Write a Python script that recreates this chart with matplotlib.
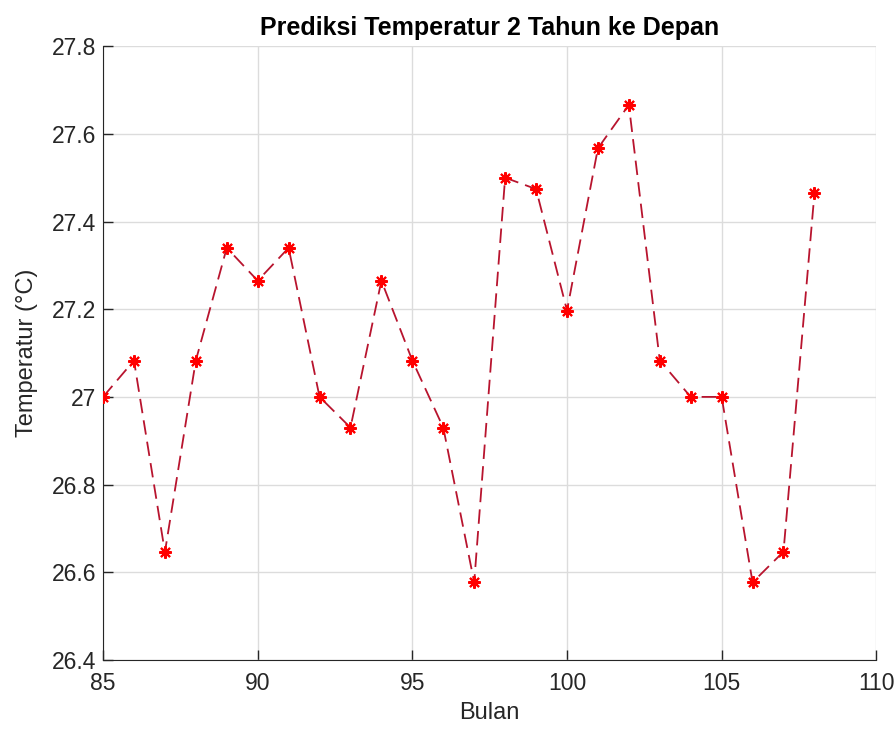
import matplotlib
matplotlib.use('Agg')
import matplotlib.pyplot as plt

plt.rcParams['font.family'] = ['Liberation Sans', 'DejaVu Sans']

# Data
bulan = [85, 86, 87, 88, 89, 90, 91, 92, 93, 94, 95, 96,
         97, 98, 99, 100, 101, 102, 103, 104, 105, 106, 107, 108]
suhu = [27.0, 27.083, 26.646, 27.083, 27.34, 27.265, 27.34, 27.0, 26.93, 27.265, 27.083, 26.93,
        26.577, 27.5, 27.474, 27.197, 27.567, 27.666, 27.083, 27.0, 27.0, 26.577, 26.647, 27.464]
xticks = [85, 90, 95, 100, 105, 110]
yticks = [26.4, 26.6, 26.8, 27.0, 27.2, 27.4, 27.6, 27.8]
ytick_labels = ['26.4', '26.6', '26.8', '27', '27.2', '27.4', '27.6', '27.8']

fig = plt.figure(figsize=(8.96, 7.29), dpi=100)
ax = fig.add_axes([0.115, 0.0947, 0.863, 0.842])

ax.plot(bulan, suhu, color='#b8142e', linestyle='--', dashes=(8, 4), linewidth=1.3,
        marker=(8, 2, 0), markersize=9, markeredgewidth=1.5,
        markeredgecolor='#ff0000', markerfacecolor='#ff0000', zorder=3)

ax.set_xlim(85, 110)
ax.set_ylim(26.4, 27.8)
ax.set_xticks(xticks)
ax.set_yticks(yticks)
ax.set_yticklabels(ytick_labels)

ax.grid(True, color='#dcdcdc', linewidth=1)
ax.set_axisbelow(True)
ax.spines['top'].set_visible(False)
ax.spines['right'].set_visible(False)
ax.spines['left'].set_color('#262626')
ax.spines['bottom'].set_color('#262626')
ax.tick_params(direction='in', length=7, width=1, colors='#262626', labelsize=16.5)
ax.tick_params(axis='y', pad=5)
ax.tick_params(axis='x', pad=9)

ax.set_xlabel('Bulan', fontsize=17, color='#262626', labelpad=5)
ax.set_ylabel('Temperatur (°C)', fontsize=17, color='#262626', labelpad=10)
ax.set_title('Prediksi Temperatur 2 Tahun ke Depan', fontsize=18, fontweight='bold', pad=8)

fig.savefig('out.png', dpi=100, facecolor='white')
